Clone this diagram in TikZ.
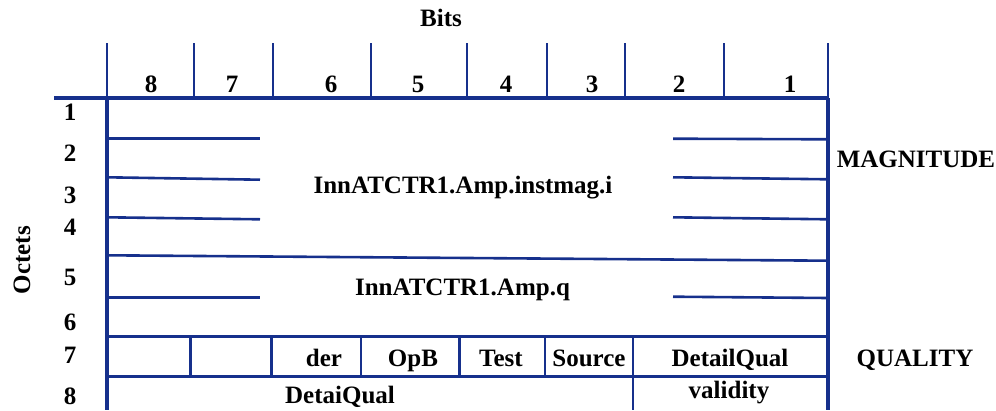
\documentclass[tikz,border=0pt]{standalone}
\usepackage{fontspec}
\setmainfont{Liberation Serif}[BoldFont={Liberation Serif Bold}]
\usetikzlibrary{positioning}
\definecolor{frameblue}{RGB}{22,48,140}

\begin{document}
\begin{tikzpicture}[
    x=1pt, y=-1pt,
    frame/.style={draw=frameblue, line width=3.6pt},
    rule/.style={draw=frameblue, line width=2.6pt},
    tick/.style={draw=frameblue, line width=2.4pt},
    lbl/.style={font=\fontsize{25}{29}\selectfont\bfseries, anchor=base, inner sep=0pt}
]
\useasboundingbox (0,0) rectangle (996,410);

% Bits header
\node[lbl] (bits) at (441,26.7) {Bits};
\foreach \x in {107,194,273,371,467,547,625,724,828}
  \draw[tick] (\x,43) -- (\x,98);
\foreach \x/\b in {151/8,232/7,331/6,418/5,506/4,592/3,679/2,790/1}
  \node[lbl] (bit\b) at (\x,92.7) {\b};

% Octets
\node[lbl, rotate=90] (octets) at (30,260) {Octets};
\foreach \y/\o in {120/1,161.7/2,203/3,235/4,285/5,330/6,363/7,404/8}
  \node[lbl] (oct\o) at (70,\y) {\o};

% Frame
\draw[frame] (54,98) -- (828,98);
\draw[frame] (107,98) -- (107,410);
\draw[frame] (828,98) -- (828,410);

% Magnitude rows
\draw[rule] (107,138.3) -- (260,138.3);
\draw[rule] (107,177.3) -- (260,179.7);
\draw[rule] (107,217.3) -- (260,219.3);
\draw[rule] (673,138.7) -- (828,139.3);
\draw[rule] (673,177.3) -- (828,179.3);
\draw[rule] (673,217.3) -- (828,219.3);
\draw[rule] (107,255.3) -- (828,260.7);
\draw[rule] (107,297.7) -- (260,297.7);
\draw[rule] (673,296.7) -- (828,298);
\node[lbl] (instmag) at (463,193.3) {InnATCTR1.Amp.instmag.i};
\node[lbl] (ampq) at (462.5,295) {InnATCTR1.Amp.q};
\node[lbl] (magnitude) at (916,167.3) {MAGNITUDE};

% Quality rows
\draw[rule] (107,336.7) -- (828,336.7);
\draw[rule] (107,376.7) -- (828,376.7);
\foreach \x in {190.7,271.7,361,459.3,545}
  \draw[rule] (\x,336.7) -- (\x,376.7);
\draw[rule] (633,336.7) -- (633,410);
\node[lbl] (der) at (324,366.7) {der};
\node[lbl] (opb) at (413,366.7) {OpB};
\node[lbl] (test) at (501,366.7) {Test};
\node[lbl] (source) at (589,366.7) {Source};
\node[lbl] (detailqual) at (730,366.7) {DetailQual};
\node[lbl] (detaiqual) at (340,403) {DetaiQual};
\node[lbl] (validity) at (729,398) {validity};
\node[lbl] (quality) at (915,366.7) {QUALITY};

\end{tikzpicture}
\end{document}
